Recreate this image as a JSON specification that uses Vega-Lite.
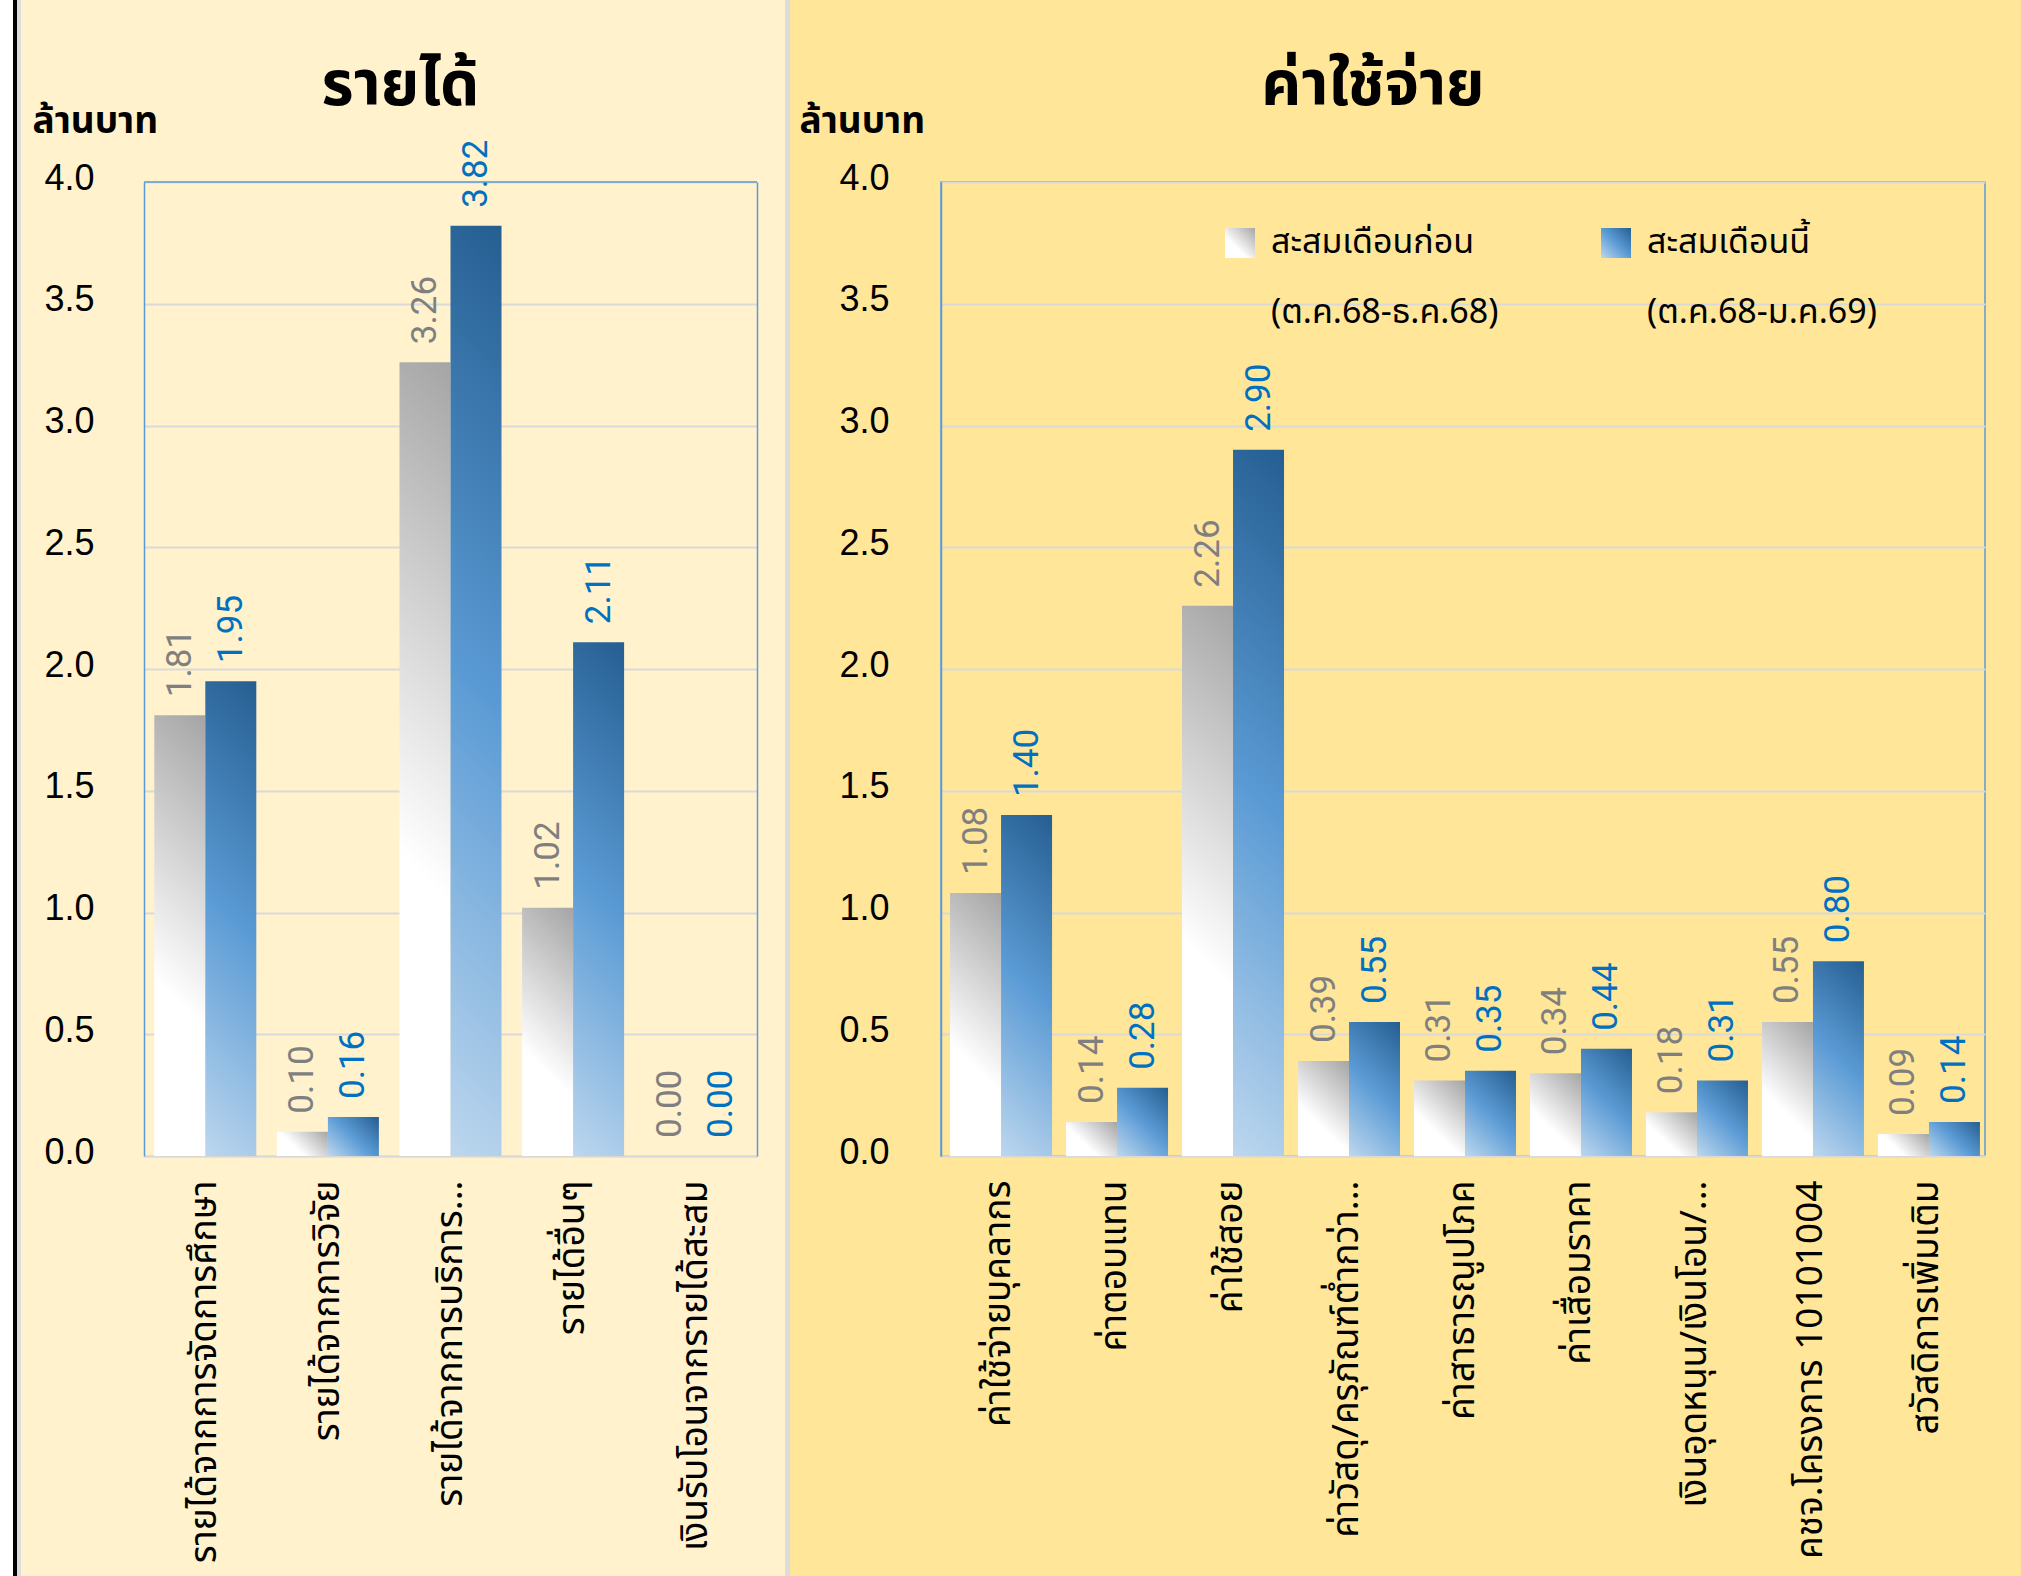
{
  "$schema": "https://vega.github.io/schema/vega-lite/v6.json",
  "autosize": {"type": "none"},
  "padding": {"left": 144, "top": 182, "right": 1877, "bottom": 1394},
  "background": "#ffe699",
  "bounds": "flush",
  "spacing": 184,
  "datasets": {
    "income": [
      {"cat": "รายได้จากการจัดการศึกษา", "series": "สะสมเดือนก่อน (ต.ค.68-ธ.ค.68)", "value": 1.81},
      {"cat": "รายได้จากการจัดการศึกษา", "series": "สะสมเดือนนี้ (ต.ค.68-ม.ค.69)", "value": 1.95},
      {"cat": "รายได้จากการวิจัย", "series": "สะสมเดือนก่อน (ต.ค.68-ธ.ค.68)", "value": 0.10},
      {"cat": "รายได้จากการวิจัย", "series": "สะสมเดือนนี้ (ต.ค.68-ม.ค.69)", "value": 0.16},
      {"cat": "รายได้จากการบริการ...", "series": "สะสมเดือนก่อน (ต.ค.68-ธ.ค.68)", "value": 3.26},
      {"cat": "รายได้จากการบริการ...", "series": "สะสมเดือนนี้ (ต.ค.68-ม.ค.69)", "value": 3.82},
      {"cat": "รายได้อื่นๆ", "series": "สะสมเดือนก่อน (ต.ค.68-ธ.ค.68)", "value": 1.02},
      {"cat": "รายได้อื่นๆ", "series": "สะสมเดือนนี้ (ต.ค.68-ม.ค.69)", "value": 2.11},
      {"cat": "เงินรับโอนจากรายได้สะสม", "series": "สะสมเดือนก่อน (ต.ค.68-ธ.ค.68)", "value": 0.00},
      {"cat": "เงินรับโอนจากรายได้สะสม", "series": "สะสมเดือนนี้ (ต.ค.68-ม.ค.69)", "value": 0.00}
    ],
    "expense": [
      {"cat": "ค่าใช้จ่ายบุคลากร", "series": "สะสมเดือนก่อน (ต.ค.68-ธ.ค.68)", "value": 1.08},
      {"cat": "ค่าใช้จ่ายบุคลากร", "series": "สะสมเดือนนี้ (ต.ค.68-ม.ค.69)", "value": 1.40},
      {"cat": "ค่าตอบแทน", "series": "สะสมเดือนก่อน (ต.ค.68-ธ.ค.68)", "value": 0.14},
      {"cat": "ค่าตอบแทน", "series": "สะสมเดือนนี้ (ต.ค.68-ม.ค.69)", "value": 0.28},
      {"cat": "ค่าใช้สอย", "series": "สะสมเดือนก่อน (ต.ค.68-ธ.ค.68)", "value": 2.26},
      {"cat": "ค่าใช้สอย", "series": "สะสมเดือนนี้ (ต.ค.68-ม.ค.69)", "value": 2.90},
      {"cat": "ค่าวัสดุ/ครุภัณฑ์ต่ำกว่า...", "series": "สะสมเดือนก่อน (ต.ค.68-ธ.ค.68)", "value": 0.39},
      {"cat": "ค่าวัสดุ/ครุภัณฑ์ต่ำกว่า...", "series": "สะสมเดือนนี้ (ต.ค.68-ม.ค.69)", "value": 0.55},
      {"cat": "ค่าสาธารณูปโภค", "series": "สะสมเดือนก่อน (ต.ค.68-ธ.ค.68)", "value": 0.31},
      {"cat": "ค่าสาธารณูปโภค", "series": "สะสมเดือนนี้ (ต.ค.68-ม.ค.69)", "value": 0.35},
      {"cat": "ค่าเสื่อมราคา", "series": "สะสมเดือนก่อน (ต.ค.68-ธ.ค.68)", "value": 0.34},
      {"cat": "ค่าเสื่อมราคา", "series": "สะสมเดือนนี้ (ต.ค.68-ม.ค.69)", "value": 0.44},
      {"cat": "เงินอุดหนุน/เงินโอน/...", "series": "สะสมเดือนก่อน (ต.ค.68-ธ.ค.68)", "value": 0.18},
      {"cat": "เงินอุดหนุน/เงินโอน/...", "series": "สะสมเดือนนี้ (ต.ค.68-ม.ค.69)", "value": 0.31},
      {"cat": "คชจ.โครงการ 10101004", "series": "สะสมเดือนก่อน (ต.ค.68-ธ.ค.68)", "value": 0.55},
      {"cat": "คชจ.โครงการ 10101004", "series": "สะสมเดือนนี้ (ต.ค.68-ม.ค.69)", "value": 0.80},
      {"cat": "สวัสดิการเพิ่มเติม", "series": "สะสมเดือนก่อน (ต.ค.68-ธ.ค.68)", "value": 0.09},
      {"cat": "สวัสดิการเพิ่มเติม", "series": "สะสมเดือนนี้ (ต.ค.68-ม.ค.69)", "value": 0.14}
    ]
  },
  "config": {
    "font": "Noto Sans Thai, Noto Sans, DejaVu Sans, sans-serif",
    "title": {"color": "#000000"},
    "axis": {"labelColor": "#000000", "titleColor": "#000000"},
    "style": {"guide-label": {"lineHeight": 70}}
  },
  "hconcat": [
    {
      "width": 613,
      "height": 974,
      "data": {"name": "income"},
      "view": {
        "fill": null,
        "strokeWidth": 5000,
        "stroke": {
          "gradient": "linear",
          "x1": -0.2349, "y1": 0, "x2": 3.062, "y2": 0,
          "stops": [
            {"offset": 0, "color": "#ffffff"},
            {"offset": 0.00643, "color": "#ffffff"},
            {"offset": 0.00643, "color": "#000000"},
            {"offset": 0.00841, "color": "#000000"},
            {"offset": 0.00841, "color": "#dcdcdc"},
            {"offset": 0.01039, "color": "#dcdcdc"},
            {"offset": 0.01039, "color": "#fff2cc"},
            {"offset": 0.38842, "color": "#fff2cc"},
            {"offset": 0.38842, "color": "#dcdcdc"},
            {"offset": 0.3909, "color": "#dcdcdc"},
            {"offset": 0.3909, "color": "#ffe699"},
            {"offset": 1, "color": "#ffe699"}
          ]
        }
      },
      "title": {"text": "รายได้", "anchor": "middle", "frame": "group", "dx": -50, "dy": 36, "fontSize": 62, "fontWeight": "bold", "offset": 20},
      "resolve": {"axis": {"y": "independent"}},
      "layer": [
        {
          "mark": {
            "type": "bar",
            "fill": {"expr": "{gradient: 'linear', x1: 0, y1: 1, x2: (1 + 4.87*datum.value)/(1 + pow(4.87*datum.value, 2)), y2: 1 - 4.87*datum.value*(1 + 4.87*datum.value)/(1 + pow(4.87*datum.value, 2)), stops: datum.series === 'สะสมเดือนก่อน (ต.ค.68-ธ.ค.68)' ? [{offset: 0, color: '#ffffff'}, {offset: 0.36, color: '#ffffff'}, {offset: 1, color: '#a5a5a5'}] : [{offset: 0, color: '#bdd7ee'}, {offset: 0.5, color: '#5b9bd5'}, {offset: 1, color: '#255e91'}]}"}
          },
          "encoding": {
            "x": {
              "field": "cat", "type": "nominal", "sort": null,
              "scale": {"paddingInner": 0.168, "paddingOuter": 0.084},
              "axis": {"title": null, "labelAngle": 270, "labelFontSize": 37, "labelPadding": 24, "labelLimit": 800, "ticks": false, "domainColor": "#d9d9d9", "domainWidth": 2}
            },
            "xOffset": {"field": "series", "type": "nominal", "scale": {"domain": ["สะสมเดือนก่อน (ต.ค.68-ธ.ค.68)", "สะสมเดือนนี้ (ต.ค.68-ม.ค.69)"]}},
            "y": {
              "field": "value", "type": "quantitative",
              "scale": {"domain": [0, 4], "nice": false},
              "axis": {"values": [0, 0.5, 1, 1.5, 2, 2.5, 3, 3.5, 4], "format": ".1f", "grid": true, "gridColor": "#d9d9d9", "gridWidth": 2, "ticks": false, "domainColor": "#5b9bd5", "domainWidth": 1.5, "labelFont": "Liberation Sans", "labelFontSize": 36, "labelPadding": 50, "labelOffset": -4, "title": "ล้านบาท", "titleAngle": 0, "titleAlign": "left", "titleBaseline": "alphabetic", "titleX": -112, "titleY": -50, "titleFontSize": 37, "titleFontWeight": "bold"}
            }
          }
        },
        {
          "mark": {"type": "text", "angle": 270, "align": "left", "baseline": "middle", "dx": 18, "fontSize": 35, "font": "Liberation Sans Narrow, Roboto, sans-serif"},
          "encoding": {
            "x": {"field": "cat", "type": "nominal", "sort": null},
            "xOffset": {"field": "series", "type": "nominal"},
            "y": {"field": "value", "type": "quantitative", "axis": null},
            "text": {"field": "value", "type": "quantitative", "format": ".2f"},
            "color": {"condition": {"test": "datum.series === 'สะสมเดือนก่อน (ต.ค.68-ธ.ค.68)'", "value": "#7f7f7f"}, "value": "#0070c0"}
          }
        },
        {
          "data": {"values": [{}]},
          "mark": {"type": "rule", "color": "#5b9bd5", "strokeWidth": 1.5},
          "encoding": {
            "y": {"datum": 4, "type": "quantitative", "axis": {"orient": "right", "labels": false, "ticks": false, "grid": false, "title": null, "domain": true, "domainColor": "#5b9bd5", "domainWidth": 1.5}}
          }
        }
      ]
    },
    {
      "width": 1044,
      "height": 974,
      "data": {"name": "expense"},
      "view": {"fill": null, "stroke": "#5b9bd5", "strokeWidth": 1.5},
      "title": {"text": "ค่าใช้จ่าย", "anchor": "middle", "frame": "group", "dx": -90, "dy": 36, "fontSize": 62, "fontWeight": "bold", "offset": 20},
      "layer": [
        {
          "mark": {
            "type": "bar",
            "fill": {"expr": "{gradient: 'linear', x1: 0, y1: 1, x2: (1 + 4.97*datum.value)/(1 + pow(4.97*datum.value, 2)), y2: 1 - 4.97*datum.value*(1 + 4.97*datum.value)/(1 + pow(4.97*datum.value, 2)), stops: datum.series === 'สะสมเดือนก่อน (ต.ค.68-ธ.ค.68)' ? [{offset: 0, color: '#ffffff'}, {offset: 0.36, color: '#ffffff'}, {offset: 1, color: '#a5a5a5'}] : [{offset: 0, color: '#bdd7ee'}, {offset: 0.5, color: '#5b9bd5'}, {offset: 1, color: '#255e91'}]}"}
          },
          "encoding": {
            "x": {
              "field": "cat", "type": "nominal", "sort": null,
              "scale": {"paddingInner": 0.155, "paddingOuter": 0.078},
              "axis": {"title": null, "labelAngle": 270, "labelFontSize": 37, "labelPadding": 24, "labelLimit": 800, "ticks": false, "domainColor": "#d9d9d9", "domainWidth": 2}
            },
            "xOffset": {"field": "series", "type": "nominal", "scale": {"domain": ["สะสมเดือนก่อน (ต.ค.68-ธ.ค.68)", "สะสมเดือนนี้ (ต.ค.68-ม.ค.69)"]}},
            "y": {
              "field": "value", "type": "quantitative",
              "scale": {"domain": [0, 4], "nice": false},
              "axis": {"values": [0, 0.5, 1, 1.5, 2, 2.5, 3, 3.5, 4], "format": ".1f", "grid": true, "gridColor": "#d9d9d9", "gridWidth": 2, "ticks": false, "domainColor": "#5b9bd5", "domainWidth": 1.5, "labelFont": "Liberation Sans", "labelFontSize": 36, "labelPadding": 52, "labelOffset": -4, "title": "ล้านบาท", "titleAngle": 0, "titleAlign": "left", "titleBaseline": "alphabetic", "titleX": -142, "titleY": -50, "titleFontSize": 37, "titleFontWeight": "bold"}
            }
          }
        },
        {
          "mark": {"type": "text", "angle": 270, "align": "left", "baseline": "middle", "dx": 18, "fontSize": 35, "font": "Liberation Sans Narrow, Roboto, sans-serif"},
          "encoding": {
            "x": {"field": "cat", "type": "nominal", "sort": null},
            "xOffset": {"field": "series", "type": "nominal"},
            "y": {"field": "value", "type": "quantitative"},
            "text": {"field": "value", "type": "quantitative", "format": ".2f"},
            "color": {"condition": {"test": "datum.series === 'สะสมเดือนก่อน (ต.ค.68-ธ.ค.68)'", "value": "#7f7f7f"}, "value": "#0070c0"}
          }
        },
        {
          "transform": [{"filter": "false"}],
          "mark": {"type": "bar"},
          "encoding": {
            "x": {"field": "cat", "type": "nominal", "sort": null},
            "y": {"field": "value", "type": "quantitative"},
            "fill": {
              "field": "series", "type": "nominal",
              "scale": {
                "domain": ["สะสมเดือนก่อน (ต.ค.68-ธ.ค.68)", "สะสมเดือนนี้ (ต.ค.68-ม.ค.69)"],
                "range": [
                  {"expr": "{gradient: 'linear', x1: 0, y1: 1, x2: 1, y2: 0, stops: [{offset: 0, color: '#ffffff'}, {offset: 0.36, color: '#ffffff'}, {offset: 1, color: '#a5a5a5'}]}"},
                  {"expr": "{gradient: 'linear', x1: 0, y1: 1, x2: 1, y2: 0, stops: [{offset: 0, color: '#bdd7ee'}, {offset: 0.5, color: '#5b9bd5'}, {offset: 1, color: '#255e91'}]}"}
                ]
              },
              "legend": {"orient": "none", "legendX": 1079, "legendY": 44, "direction": "horizontal", "columns": 2, "title": null, "symbolType": "square", "symbolSize": 900, "symbolStrokeWidth": 0, "symbolOpacity": 1, "labelFontSize": 34, "labelColor": "#000000", "labelExpr": "split(datum.label, ' ')", "labelOffset": 14, "columnPadding": 100, "labelLimit": 500, "padding": 0}
            }
          }
        }
      ]
    }
  ]
}
